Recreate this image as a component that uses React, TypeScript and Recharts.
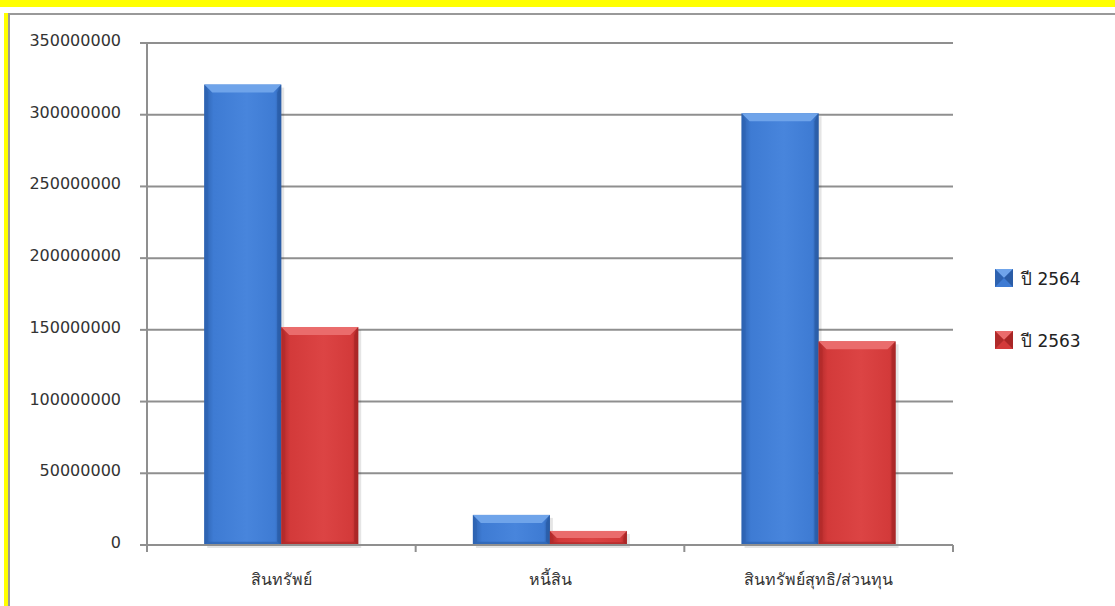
import React from "react";
import { BarChart, Bar, XAxis, YAxis, CartesianGrid, Legend } from "recharts";

const categories = ["สินทรัพย์", "หนี้สิน", "สินทรัพย์สุทธิ/ส่วนทุน"];
const year2564 = [321000000, 21000000, 301000000];
const year2563 = [152000000, 9800000, 142000000];
const yTicks = [0, 50000000, 100000000, 150000000, 200000000, 250000000, 300000000, 350000000];
const seriesNames = ["ปี 2564", "ปี 2563"];

const data = categories.map((name, i) => ({
  name,
  y2564: year2564[i],
  y2563: year2563[i],
}));

const W = 1115;
const H = 606;
const PLOT_LEFT = 147;
const PLOT_RIGHT = 953;
const PLOT_TOP = 43;
const PLOT_BOTTOM = 545;
const X_AXIS_H = 30;
const GRID = "#8f8f8f";
const FONT = "'DejaVu Sans', 'Noto Sans', sans-serif";

type Palette = { main: string; light: string; top: string; left: string; right: string; bottom: string };

const blue: Palette = {
  main: "#3e7bd3",
  light: "#4885dc",
  top: "#6fa4ea",
  left: "#2d62b0",
  right: "#2a5ca6",
  bottom: "#2f67b5",
};
const red: Palette = {
  main: "#d33a3a",
  light: "#dc4444",
  top: "#ea6c6c",
  left: "#b02a2a",
  right: "#a82626",
  bottom: "#b32c2c",
};

function bevelShape(p: Palette, id: string) {
  return (props: any) => {
    const { x, y, width, height } = props;
    if (!width || !height || height <= 0) return <g />;
    const b = Math.min(8, height / 2, width / 4);
    return (
      <g>
        <rect x={x + 3} y={y + 3} width={width} height={height} fill="#000" opacity={0.1} />
        <rect x={x} y={y} width={width} height={height} fill={`url(#${id})`} />
        <polygon
          points={`${x},${y} ${x + width},${y} ${x + width - b},${y + b} ${x + b},${y + b}`}
          fill={p.top}
        />
        <polygon
          points={`${x},${y} ${x + b * 0.5},${y + b} ${x + b * 0.5},${y + height - b * 0.4} ${x},${y + height}`}
          fill={p.left}
          opacity={0.6}
        />
        <polygon
          points={`${x + width},${y} ${x + width - b * 0.5},${y + b} ${x + width - b * 0.5},${y + height - b * 0.4} ${x + width},${y + height}`}
          fill={p.right}
          opacity={0.75}
        />
        <polygon
          points={`${x},${y + height} ${x + width},${y + height} ${x + width - b * 0.5},${y + height - b * 0.4} ${x + b * 0.5},${y + height - b * 0.4}`}
          fill={p.bottom}
          opacity={0.8}
        />
      </g>
    );
  };
}

function YTick(props: any) {
  const { y, payload } = props;
  return (
    <g>
      <line x1={PLOT_LEFT - 7} x2={PLOT_LEFT} y1={y} y2={y} stroke={GRID} strokeWidth={2} />
      <text x={121} y={y + 3} textAnchor="end" fontSize={16} fill="#333" fontFamily={FONT}>
        {payload.value}
      </text>
    </g>
  );
}

function XTick(props: any) {
  const { x, payload, index } = props;
  const half = (PLOT_RIGHT - PLOT_LEFT) / categories.length / 2;
  return (
    <g>
      <line x1={x - half} x2={x - half} y1={PLOT_BOTTOM} y2={PLOT_BOTTOM + 7} stroke={GRID} strokeWidth={2} />
      {index === categories.length - 1 && (
        <line x1={x + half} x2={x + half} y1={PLOT_BOTTOM} y2={PLOT_BOTTOM + 7} stroke={GRID} strokeWidth={2} />
      )}
      <text x={x} y={585} textAnchor="middle" fontSize={16} fill="#333" fontFamily={FONT}>
        {payload.value}
      </text>
    </g>
  );
}

function LegendMarker({ p }: { p: Palette }) {
  return (
    <svg width={18} height={18} style={{ display: "block" }}>
      <rect x={0} y={0} width={18} height={18} fill={p.main} />
      <polygon points="0,0 18,0 9,9" fill={p.top} />
      <polygon points="0,0 9,9 0,18" fill={p.left} />
      <polygon points="18,0 9,9 18,18" fill={p.right} />
    </svg>
  );
}

function renderLegend() {
  const pals = [blue, red];
  return (
    <div style={{ fontFamily: FONT, fontSize: 17, color: "#222" }}>
      {seriesNames.map((n, i) => (
        <div key={n} style={{ display: "flex", alignItems: "center", height: 24, marginBottom: 38 }}>
          <LegendMarker p={pals[i]} />
          <span style={{ marginLeft: 8 }}>{n}</span>
        </div>
      ))}
    </div>
  );
}

export default function App() {
  return (
    <div style={{ position: "absolute", left: 0, top: 0, width: W, height: H, background: "#fff", overflow: "hidden" }}>
      <div style={{ position: "absolute", left: 0, top: 0, width: W, height: 7, background: "#ffff00" }} />
      <div
        style={{
          position: "absolute",
          left: 8,
          top: 13,
          width: W,
          height: H,
          borderTop: "2px solid #999",
          borderLeft: "2px solid #999",
        }}
      />
      <div style={{ position: "absolute", left: 4, top: 13, width: 4, height: H, background: "#ffff00" }} />
      <div style={{ position: "absolute", left: 0, top: 0 }}>
        <BarChart
          width={W}
          height={H}
          data={data}
          margin={{ top: PLOT_TOP, right: W - PLOT_RIGHT, bottom: H - PLOT_BOTTOM - X_AXIS_H, left: 0 }}
          barCategoryGap="21.3%"
          barGap={0}
        >
          <defs>
            <linearGradient id="gBlue" x1="0" y1="0" x2="1" y2="0">
              <stop offset="0" stopColor={blue.left} />
              <stop offset="0.12" stopColor={blue.main} />
              <stop offset="0.55" stopColor={blue.light} />
              <stop offset="0.92" stopColor={blue.main} />
              <stop offset="1" stopColor={blue.right} />
            </linearGradient>
            <linearGradient id="gRed" x1="0" y1="0" x2="1" y2="0">
              <stop offset="0" stopColor={red.left} />
              <stop offset="0.12" stopColor={red.main} />
              <stop offset="0.55" stopColor={red.light} />
              <stop offset="0.92" stopColor={red.main} />
              <stop offset="1" stopColor={red.right} />
            </linearGradient>
          </defs>
          <CartesianGrid vertical={false} stroke={GRID} strokeWidth={2} />
          <XAxis
            dataKey="name"
            height={X_AXIS_H}
            axisLine={{ stroke: GRID, strokeWidth: 2 }}
            tickLine={false}
            tickSize={0}
            tickMargin={0}
            tick={<XTick />}
            interval={0}
          />
          <YAxis
            width={PLOT_LEFT}
            domain={[0, 350000000]}
            ticks={yTicks}
            axisLine={{ stroke: GRID, strokeWidth: 2 }}
            tickLine={false}
            tick={<YTick />}
            interval={0}
          />
          <Legend
            layout="horizontal"
            align="center"
            verticalAlign="middle"
            content={renderLegend}
            wrapperStyle={{ position: "absolute", left: 995, top: 266, width: 120 }}
          />
          <Bar dataKey="y2564" name={seriesNames[0]} fill={blue.main} shape={bevelShape(blue, "gBlue")} isAnimationActive={false} />
          <Bar dataKey="y2563" name={seriesNames[1]} fill={red.main} shape={bevelShape(red, "gRed")} isAnimationActive={false} />
        </BarChart>
      </div>
    </div>
  );
}
